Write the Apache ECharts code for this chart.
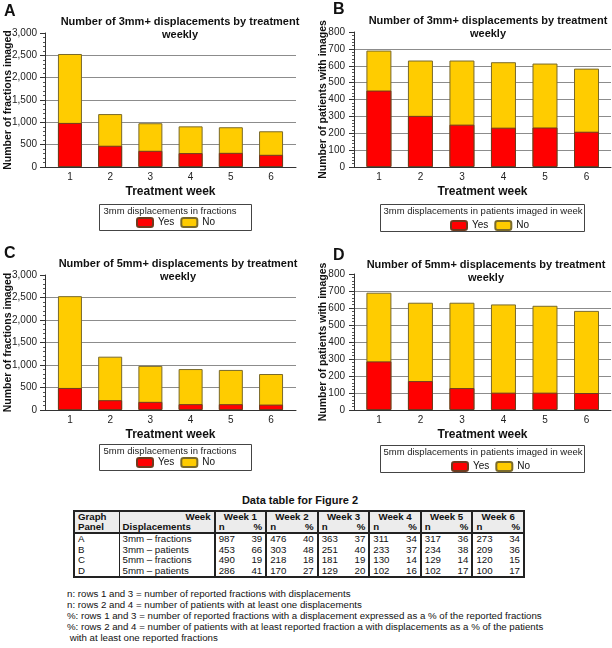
<!DOCTYPE html>
<html>
<head>
<meta charset="utf-8">
<script src="https://cdn.jsdelivr.net/npm/echarts@6/dist/echarts.min.js"></script>
<style>
  body { margin: 0; background: #fff; font-family: 'Liberation Sans', Arial, sans-serif; }
  #page { position: relative; width: 612px; height: 648px; overflow: hidden; }
  .panel { position: absolute; width: 306px; height: 240px; }
  #tblTitle { position: absolute; left: 0; width: 600px; top: 494px; text-align: center; font-weight: bold; font-size: 11px; color: #111; }
  table { position: absolute; left: 73px; top: 510px; width: 452px; border-collapse: collapse; font-size: 9.7px; color: #111; border: 2px solid #222; }
  td, th { padding: 0 3px; height: 10.5px; line-height: 10.5px; white-space: nowrap; }
  thead th { height: 10px; line-height: 10px; }
  thead tr { background: #ececec; }
  thead th { font-weight: bold; }
  thead tr:last-child th { border-bottom: 2px solid #222; }
  .sep { border-left: 1px solid #222; }
  .sepB { border-left: 2px solid #222; }
  .l { text-align: left; }
  .r { text-align: right; }
  #notes { position: absolute; left: 67px; top: 588px; font-size: 9.7px; line-height: 11px; color: #111; white-space: pre; }
</style>
</head>
<body>
<div id="page">
  <div id="pA" class="panel" style="left:0;top:0"></div>
  <div id="pB" class="panel" style="left:306px;top:0"></div>
  <div id="pC" class="panel" style="left:0;top:240px"></div>
  <div id="pD" class="panel" style="left:306px;top:240px"></div>
  <div id="tblTitle">Data table for Figure 2</div>
  <table id="tbl"></table>
  <div id="notes"></div>
</div>
<script>
  var weeks = [1, 2, 3, 4, 5, 6]
  // Yes = reported displacements, No = rest of the bar
  var yesA = [987, 476, 363, 311, 317, 273]
  var noA = [1543, 709, 617, 599, 573, 527]
  var yesB = [453, 303, 251, 233, 234, 209]
  var noB = [237, 328, 380, 388, 379, 374]
  var yesC = [490, 218, 181, 130, 129, 120]
  var noC = [2040, 967, 799, 780, 761, 680]
  var yesD = [286, 170, 129, 102, 102, 100]
  var noD = [404, 461, 502, 519, 511, 483]
  // percentages from the data table
  var pctA = [39, 40, 37, 34, 36, 34]
  var pctB = [66, 48, 40, 37, 38, 36]
  var pctC = [19, 18, 19, 14, 14, 15]
  var pctD = [41, 27, 20, 16, 17, 17]
  var rowPanels = ['A', 'B', 'C', 'D']
  var rowLabels = ['3mm \u2013 fractions', '3mm \u2013 patients', '5mm \u2013 fractions', '5mm \u2013 patients']
  var notes = [
    'n: rows 1 and 3 = number of reported fractions with displacements',
    'n: rows 2 and 4 = number of patients with at least one displacements',
    '%: rows 1 and 3 = number of reported fractions with a displacement expressed as a % of the reported fractions',
    '%: rows 2 and 4 = number of patients with at least reported fraction a with displacements as a % of the patients',
    ' with at least one reported fractions'
  ]

  var FONT = "'Liberation Sans', Arial, sans-serif"

  function fmt(v) {
    return String(v).replace(/\B(?=(\d{3})+(?!\d))/g, ',')
  }

  function drawPanel(el, p) {
    var chart = echarts.init(el)
    var nLines = p.max / p.interval + 1
    var gridColors = []
    for (var i = 0; i < nLines; i++) {
      gridColors.push(i === nLines - 1 ? 'rgba(0,0,0,0)' : '#8c8c8c')
    }
    // yellow bar is drawn full height, red part on top of it (same x)
    var totals = p.yes.map(function (v, i) { return v + p.no[i] })
    var option = {
      animation: false,
      title: {
        text: p.title + '\nweekly',
        left: p.titleX,
        top: p.titleTop,
        textAlign: 'center',
        textStyle: { fontFamily: FONT, fontSize: 11, fontWeight: 'bold', color: '#111', lineHeight: 13 },
      },
      grid: {
        left: p.left, right: 306 - p.right, top: p.top, bottom: 240 - p.bottom,
        outerBoundsMode: 'none',
      },
      xAxis: {
        type: 'value',
        min: p.xmin,
        max: p.xmax,
        name: 'Treatment week',
        nameLocation: 'middle',
        nameGap: 19,
        nameMoveOverlap: false,
        nameTextStyle: { fontFamily: FONT, fontSize: 12, fontWeight: 'bold', color: '#111' },
        axisLine: { show: true, lineStyle: { color: '#333' } },
        axisTick: { show: false },
        splitLine: { show: false },
        axisLabel: { customValues: weeks, margin: 5, fontFamily: FONT, fontSize: 10, color: '#222' },
      },
      yAxis: {
        type: 'value',
        min: 0,
        max: p.max,
        interval: p.interval,
        name: p.yName,
        nameLocation: 'middle',
        nameGap: p.nameGap,
        nameMoveOverlap: false,
        nameTextStyle: { fontFamily: FONT, fontSize: 10.5, fontWeight: 'bold', color: '#111' },
        axisLine: { show: true, lineStyle: { color: '#333' } },
        axisTick: { show: true, length: 5, lineStyle: { color: '#333' } },
        minorTick: { show: true, splitNumber: 5, length: 2, lineStyle: { color: '#555' } },
        splitLine: { show: true, lineStyle: { color: gridColors, width: 1 } },
        axisLabel: { margin: p.labelMargin, fontFamily: FONT, fontSize: 10, color: '#222', formatter: fmt },
      },
      legend: {
        data: ['Yes', 'No'],
        left: p.legX,
        top: p.legY,
        itemWidth: 16,
        itemHeight: 9,
        itemGap: 6,
        padding: 0,
        textStyle: { fontFamily: FONT, fontSize: 10, color: '#111' },
      },
      graphic: [
        {
          type: 'text',
          left: p.letterX,
          top: p.letterY,
          style: { text: p.letter, font: 'bold 16px ' + FONT, fill: '#111' },
        },
        {
          type: 'rect',
          shape: { x: p.box[0], y: p.box[1], width: p.box[2], height: p.box[3] },
          style: { fill: 'none', stroke: '#444', lineWidth: 1 },
        },
        {
          type: 'text',
          x: p.boxTextX,
          y: p.box[1] + 7,
          style: { text: p.boxTitle, font: '9.5px ' + FONT, fill: '#222', align: 'center', verticalAlign: 'middle' },
        },
      ],
      series: [
        {
          name: 'No',
          type: 'bar',
          barWidth: p.barWidth,
          barGap: '-100%',
          itemStyle: { color: '#ffcc00', borderColor: '#7a6a2a', borderWidth: 1 },
          data: weeks.map(function (w, i) { return [w, totals[i]] }),
        },
        {
          name: 'Yes',
          type: 'bar',
          barWidth: p.barWidth,
          barGap: '-100%',
          itemStyle: { color: '#ff0000', borderColor: '#6e3a1e', borderWidth: 1 },
          data: weeks.map(function (w, i) { return [w, p.yes[i]] }),
        },
      ],
    }
    chart.setOption(option)
  }

  drawPanel(document.getElementById('pA'), {
    letter: 'A', letterX: 4, letterY: 4,
    title: 'Number of 3mm+ displacements by treatment', titleX: 175, titleTop: 10,
    left: 45, right: 296, top: 33, bottom: 167, xmin: 0.38, xmax: 6.62, barWidth: 24,
    max: 3000, interval: 500, yName: 'Number of fractions imaged', nameGap: 31, labelMargin: 8,
    legX: 136, legY: 217, box: [99.5, 204.5, 152, 26], boxTextX: 170,
    boxTitle: '3mm displacements in fractions', yes: yesA, no: noA,
  })
  drawPanel(document.getElementById('pB'), {
    letter: 'B', letterX: 27, letterY: 2,
    title: 'Number of 3mm+ displacements by treatment', titleX: 177, titleTop: 9,
    left: 48, right: 305, top: 32, bottom: 167, xmin: 0.40, xmax: 6.59, barWidth: 25,
    max: 800, interval: 100, yName: 'Number of patients with images', nameGap: 25, labelMargin: 9,
    legX: 144, legY: 220, box: [74.5, 204.5, 204, 27], boxTextX: 177,
    boxTitle: '3mm displacements in patients imaged in week', yes: yesB, no: noB,
  })
  drawPanel(document.getElementById('pC'), {
    letter: 'C', letterX: 4, letterY: 6,
    title: 'Number of 5mm+ displacements by treatment', titleX: 173, titleTop: 12,
    left: 45, right: 296, top: 35, bottom: 170, xmin: 0.38, xmax: 6.62, barWidth: 24,
    max: 3000, interval: 500, yName: 'Number of fractions imaged', nameGap: 31, labelMargin: 8,
    legX: 136, legY: 217, box: [99.5, 204.5, 152, 26], boxTextX: 170,
    boxTitle: '5mm displacements in fractions', yes: yesC, no: noC,
  })
  drawPanel(document.getElementById('pD'), {
    letter: 'D', letterX: 27, letterY: 8,
    title: 'Number of 5mm+ displacements by treatment', titleX: 175, titleTop: 13,
    left: 48, right: 305, top: 34, bottom: 170, xmin: 0.40, xmax: 6.59, barWidth: 25,
    max: 800, interval: 100, yName: 'Number of patients with images', nameGap: 25, labelMargin: 9,
    legX: 145, legY: 221, box: [74.5, 205.5, 204, 27], boxTextX: 177,
    boxTitle: '5mm displacements in patients imaged in week', yes: yesD, no: noD,
  })

  // data table
  var yesRows = [yesA, yesB, yesC, yesD]
  var pctRows = [pctA, pctB, pctC, pctD]
  var html = '<thead><tr><th class="l">Graph</th><th class="r sep">Week</th>'
  weeks.forEach(function (w) {
    html += '<th colspan="2" class="sepB" style="text-align:center">Week ' + w + '</th>'
  })
  html += '</tr><tr><th class="l">Panel</th><th class="l sep">Displacements</th>'
  weeks.forEach(function () {
    html += '<th class="l sepB">n</th><th class="r">%</th>'
  })
  html += '</tr></thead><tbody>'
  rowPanels.forEach(function (pn, r) {
    html += '<tr><td class="l">' + pn + '</td><td class="l sep">' + rowLabels[r] + '</td>'
    weeks.forEach(function (w, i) {
      html += '<td class="l sepB">' + yesRows[r][i] + '</td><td class="r">' + pctRows[r][i] + '</td>'
    })
    html += '</tr>'
  })
  html += '</tbody>'
  document.getElementById('tbl').innerHTML = html
  document.getElementById('notes').textContent = notes.join('\n')
</script>
</body>
</html>
